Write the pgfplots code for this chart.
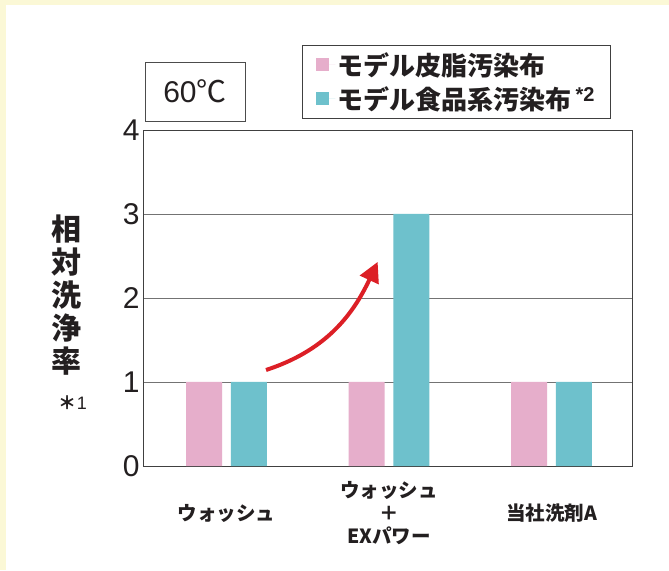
\documentclass[border=0pt]{standalone}
\usepackage{fontspec}
\setmainfont{Liberation Sans}
\newfontfamily\jp{Noto Sans CJK JP}
\usepackage{pgfplots}
\pgfplotsset{compat=1.18}
\usetikzlibrary{arrows.meta}
\definecolor{bgyel}{HTML}{FBF8D6}
\definecolor{barpink}{HTML}{E6AECB}
\definecolor{barteal}{HTML}{6EC1CC}
\definecolor{arrred}{HTML}{DC1F26}
\definecolor{txt}{HTML}{231F20}
\begin{document}
\begin{tikzpicture}
\fill[bgyel] (0pt,0pt) rectangle (669pt,570pt);
\fill[white] (6pt,0pt) rectangle (669pt,565pt);
\begin{axis}[
  at={(143pt,104pt)}, anchor=south west,
  width=489pt, height=336pt, scale only axis,
  xmin=-0.514, xmax=2.495, ymin=0, ymax=4,
  ybar, bar width=0.2215,
  xtick={0,1,2},
  xticklabels={ウォッシュ, {ウォッシュ\\＋\\EXパワー}, 当社洗剤A},
  xticklabel style={text=txt, font=\jp\bfseries\fontsize{19.5}{23}\selectfont, align=center, anchor=center, yshift=-47pt},
  ytick={0,1,2,3,4},
  yticklabel style={text=txt, font=\fontsize{30}{30}\selectfont},
  /pgf/number format/assume math mode=true,
  major tick length=0pt,
  ymajorgrids, grid style={draw=black!55, line width=0.8pt},
  axis line style={draw=black!75, line width=0.9pt},
  ylabel={相\\対\\洗\\浄\\率},
  ylabel style={text=txt, rotate=-90, at={(rel axis cs:-0.157,0.509)}, anchor=center, align=center, font=\jp\bfseries\fontsize{30}{33}\selectfont},
  legend style={at={(rel axis cs:0.325,1.253)}, anchor=north west, draw=black!75, line width=0.8pt, fill=white,
     inner xsep=14pt, inner ysep=5pt, row sep=6pt, text=txt,
     font=\jp\bfseries\fontsize{26}{26}\selectfont, nodes={inner sep=2pt}},
  legend cell align=left,
  legend image code/.code={\fill[#1] (0pt,-6.5pt) rectangle (13pt,6.5pt); \path (0pt,0pt) -- (19pt,0pt);},
]
\addplot[fill=barpink, draw=none, bar shift=-0.138] coordinates {(0,1) (1,1) (2,1)};
\addlegendentry{モデル皮脂汚染布}
\addplot[fill=barteal, draw=none, bar shift=0.138] coordinates {(0,1) (1,3) (2,1)};
\addlegendentry{モデル食品系汚染布\,\raisebox{8pt}{\normalfont\bfseries\fontsize{20}{20}\selectfont *2}}
\draw[arrred, line width=4pt, -{Triangle[length=20pt,width=20pt]}] (axis cs:0.243,1.143) to[out=18,in=245] (axis cs:0.93,2.43);
\end{axis}
\node[text=txt, font=\fontsize{18}{18}\selectfont] at (73pt,167pt) {{\jp\bfseries ＊}1};
\node[text=txt, draw=black!70, line width=0.8pt, minimum width=100pt, minimum height=59pt, font=\fontsize{30}{30}\selectfont] at (195pt,478.5pt) {60{\jp ℃}};
\end{tikzpicture}
\end{document}
